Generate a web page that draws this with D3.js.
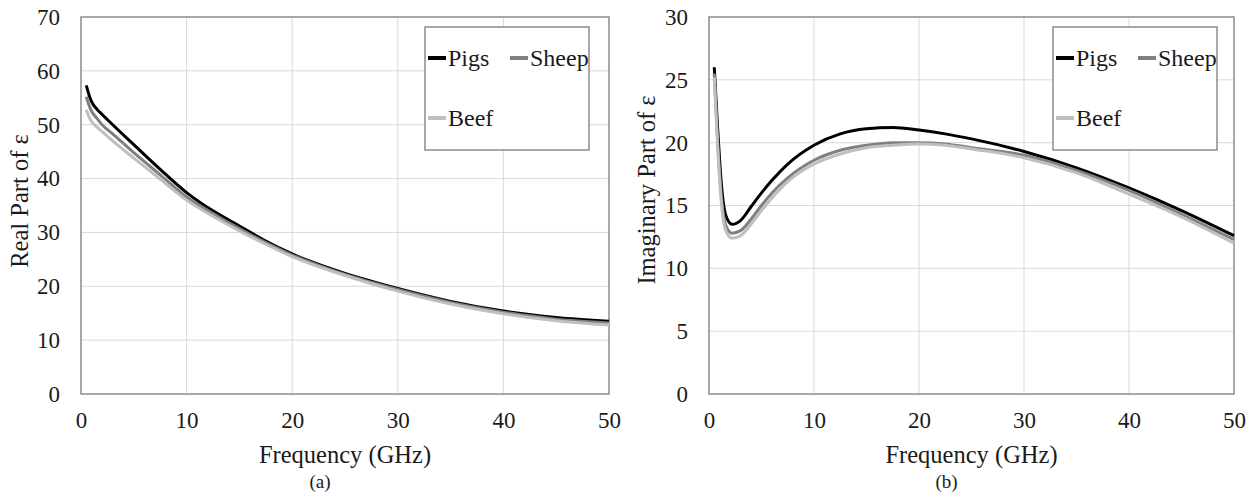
<!DOCTYPE html>
<html>
<head>
<meta charset="utf-8">
<script src="https://cdn.jsdelivr.net/npm/d3@7"></script>
<style>
  body { margin: 0; background: #fff; }
  svg text { font-family: "Liberation Serif", "Times New Roman", serif; fill: #1a1a1a; }
</style>
</head>
<body>
<div id="chart"></div>
<script>
// frequencies (GHz) for the real part
var freqReal = [0.5, 0.8, 1, 1.5, 2, 3, 5, 7.5, 10, 12.5, 15, 17.5, 20, 25, 30, 35, 40, 45, 50];
var pigsReal  = [57.3, 55.3, 54.3, 52.9, 51.9, 50.0, 46.3, 41.7, 37.4, 34.0, 31.2, 28.4, 26.0, 22.4, 19.6, 17.2, 15.4, 14.2, 13.5];
var sheepReal = [55.2, 53.4, 52.5, 51.2, 50.0, 48.3, 44.8, 40.7, 36.6, 33.5, 30.7, 28.1, 25.8, 22.2, 19.4, 17.0, 15.2, 13.9, 13.2];
var beefReal  = [52.8, 51.3, 50.6, 49.6, 48.7, 47.0, 43.8, 39.9, 36.0, 33.0, 30.3, 27.8, 25.5, 22.0, 19.1, 16.7, 14.9, 13.6, 12.8];

// frequencies (GHz) for the imaginary part
var freqImag = [0.5, 0.8, 1.2, 1.6, 2.2, 3, 4, 5, 6, 7.5, 10, 12.5, 15, 17.5, 20, 22.5, 25, 30, 35, 40, 45, 50];
var pigsImag  = [26.0, 21.5, 16.5, 14.2, 13.5, 13.8, 14.9, 16.0, 17.0, 18.3, 19.8, 20.7, 21.1, 21.2, 21.0, 20.7, 20.3, 19.3, 18.0, 16.4, 14.6, 12.6];
var sheepImag = [25.5, 20.5, 15.5, 13.4, 12.8, 13.0, 13.9, 15.0, 16.0, 17.2, 18.6, 19.4, 19.8, 20.0, 20.0, 19.9, 19.6, 19.0, 17.8, 16.2, 14.3, 12.3];
var beefImag  = [25.2, 20.0, 15.0, 13.0, 12.4, 12.6, 13.5, 14.6, 15.6, 16.9, 18.3, 19.1, 19.6, 19.8, 19.9, 19.8, 19.5, 18.8, 17.6, 15.9, 14.1, 12.0];

var seriesNames = ["Pigs", "Sheep", "Beef"];
var seriesColors = ["#000000", "#808080", "#bfbfbf"];
var xTicks = [0, 10, 20, 30, 40, 50];
var yTicksReal = [0, 10, 20, 30, 40, 50, 60, 70];
var yTicksImag = [0, 5, 10, 15, 20, 25, 30];

var W = 1257, H = 495;
var FONT = "Liberation Serif, Times New Roman, serif";
var svg = d3.select("#chart").append("svg")
    .attr("width", W)
    .attr("height", H);

function panel(opt) {
    var x = d3.scaleLinear().domain([0, 50]).range([opt.left, opt.right]);
    var y = d3.scaleLinear().domain([0, opt.ymax]).range([394, 17]);
    var g = svg.append("g");

    // grid
    g.selectAll("line.vgrid").data(xTicks.slice(1, -1)).enter().append("line")
        .attr("x1", d => x(d)).attr("x2", d => x(d))
        .attr("y1", y(0)).attr("y2", y(opt.ymax))
        .attr("stroke", "#d9d9d9").attr("stroke-width", 1);
    g.selectAll("line.hgrid").data(opt.yTicks.slice(1, -1)).enter().append("line")
        .attr("x1", x(0)).attr("x2", x(50))
        .attr("y1", d => y(d)).attr("y2", d => y(d))
        .attr("stroke", "#d9d9d9").attr("stroke-width", 1);

    // plot border
    g.append("rect")
        .attr("x", x(0)).attr("y", y(opt.ymax))
        .attr("width", x(50) - x(0)).attr("height", y(0) - y(opt.ymax))
        .attr("fill", "none").attr("stroke", "#8c8c8c").attr("stroke-width", 1.5);

    // axes (labels only)
    var xAxis = g.append("g").attr("transform", "translate(0,394)")
        .call(d3.axisBottom(x).tickValues(xTicks).tickSize(0).tickPadding(24));
    var yAxis = g.append("g").attr("transform", "translate(" + opt.left + ",0)")
        .call(d3.axisLeft(y).tickValues(opt.yTicks).tickSize(0).tickPadding(21));
    [xAxis, yAxis].forEach(function (a) {
        a.attr("font-family", FONT).attr("font-size", 23);
        a.select(".domain").remove();
        a.selectAll("text").attr("fill", "#1a1a1a");
    });
    xAxis.selectAll("text").attr("dy", "0.32em").attr("y", 27);

    // lines
    var line = d3.line()
        .x(d => x(d[0]))
        .y(d => y(d[1]))
        .curve(d3.curveMonotoneX);
    opt.series.forEach(function (vals, i) {
        g.append("path")
            .datum(opt.freq.map((f, j) => [f, vals[j]]))
            .attr("d", line)
            .attr("fill", "none")
            .attr("stroke", seriesColors[i])
            .attr("stroke-width", 3);
    });

    // legend
    var lg = g.append("g").attr("font-family", FONT);
    lg.append("rect")
        .attr("x", opt.legX).attr("y", 27)
        .attr("width", 164).attr("height", 123)
        .attr("fill", "#fff").attr("stroke", "#8c8c8c").attr("stroke-width", 1.5);
    var legPos = [[0, 58], [82, 58], [0, 118]];
    seriesNames.forEach(function (name, i) {
        var lx = opt.legX + 3 + legPos[i][0], ly = legPos[i][1];
        lg.append("line")
            .attr("x1", lx).attr("x2", lx + 18)
            .attr("y1", ly).attr("y2", ly)
            .attr("stroke", seriesColors[i]).attr("stroke-width", 4);
        lg.append("text")
            .attr("x", lx + 20).attr("y", ly + 8)
            .attr("font-size", 24)
            .text(name);
    });

    // titles
    var cx = (opt.left + opt.right) / 2;
    g.append("text")
        .attr("x", cx).attr("y", 463)
        .attr("text-anchor", "middle")
        .attr("font-family", FONT).attr("font-size", 24.5)
        .text("Frequency (GHz)");
    g.append("text")
        .attr("x", cx - 25).attr("y", 488)
        .attr("text-anchor", "middle")
        .attr("font-family", FONT).attr("font-size", 19)
        .text(opt.tag);
    g.append("text")
        .attr("transform", "translate(" + opt.ytX + "," + opt.ytY + ") rotate(-90)")
        .attr("text-anchor", "middle")
        .attr("font-family", FONT).attr("font-size", 24.5)
        .text(opt.ytitle);
}

panel({
    left: 81, right: 609, ymax: 70, yTicks: yTicksReal,
    freq: freqReal, series: [pigsReal, sheepReal, beefReal],
    legX: 425, tag: "(a)", ytitle: "Real Part of ε", ytX: 28, ytY: 201
});
panel({
    left: 709, right: 1234, ymax: 30, yTicks: yTicksImag,
    freq: freqImag, series: [pigsImag, sheepImag, beefImag],
    legX: 1053, tag: "(b)", ytitle: "Imaginary  Part of ε", ytX: 655, ytY: 190
});
</script>
</body>
</html>
